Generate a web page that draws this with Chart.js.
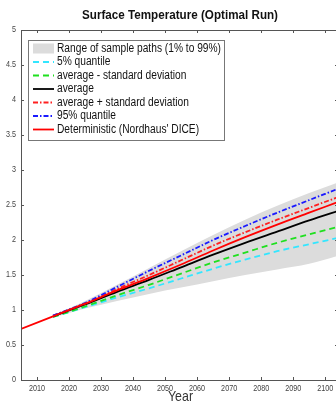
<!DOCTYPE html>
<html>
<head>
<meta charset="utf-8">
<script src="https://cdn.jsdelivr.net/npm/chart.js@4"></script>
<style>
  html, body { margin: 0; padding: 0; background: #fff; }
  #wrap { width: 336px; height: 407px; overflow: hidden; position: relative; }
  canvas { display: block; }
</style>
</head>
<body>
<div id="wrap"><canvas id="chart" width="345" height="407"></canvas></div>
<script>
const years = [2005, 2015, 2025, 2035, 2045, 2055, 2065, 2075, 2085, 2095, 2105];
const bandUpper = [null, 0.93, 1.13, 1.36, 1.60, 1.84, 2.07, 2.29, 2.49, 2.67, 2.84];
const bandLower = [null, 0.89, 1.02, 1.13, 1.23, 1.32, 1.41, 1.50, 1.58, 1.66, 1.79];
const q05 = [null, 0.90, 1.04, 1.18, 1.31, 1.45, 1.59, 1.72, 1.84, 1.94, 2.04];
const avgMinusSd = [null, 0.90, 1.05, 1.21, 1.36, 1.52, 1.68, 1.82, 1.96, 2.08, 2.20];
const average = [null, 0.91, 1.08, 1.26, 1.43, 1.61, 1.79, 1.96, 2.12, 2.28, 2.43];
const avgPlusSd = [null, 0.92, 1.09, 1.30, 1.50, 1.71, 1.92, 2.11, 2.29, 2.46, 2.63];
const q95 = [null, 0.92, 1.10, 1.33, 1.56, 1.78, 2.00, 2.20, 2.39, 2.57, 2.75];
const deterministic = [0.73, 0.91, 1.09, 1.28, 1.46, 1.65, 1.85, 2.04, 2.22, 2.39, 2.56];

const xTicks = [2010, 2020, 2030, 2040, 2050, 2060, 2070, 2080, 2090, 2100];
const yTicks = [0, 0.5, 1, 1.5, 2, 2.5, 3, 3.5, 4, 4.5, 5];

const seriesLabels = [
  'Range of sample paths (1% to 99%)',
  '5% quantile',
  'average - standard deviation',
  'average',
  'average + standard deviation',
  '95% quantile',
  "Deterministic (Nordhaus' DICE)"
];

const FONT = '"Liberation Sans", Arial, sans-serif';
const dash = [6, 4];
const dashDot = [5, 2, 1.5, 2];

function pts(arr) {
  return years.map((y, i) => ({ x: y, y: arr[i] }));
}

function line(label, arr, color, d, order) {
  return {
    label: label, data: pts(arr), borderColor: color, borderWidth: 1.8,
    borderDash: d, pointRadius: 0, fill: false,
    cubicInterpolationMode: 'monotone', order: order
  };
}

// text squeezed horizontally by sx (the original uses a condensed face)
function squeezeText(ctx, text, x, y, font, sx, align) {
  ctx.save();
  ctx.translate(x, y);
  ctx.scale(sx, 1);
  ctx.font = font;
  ctx.textAlign = align;
  ctx.textBaseline = 'middle';
  ctx.fillText(text, 0, 0);
  ctx.restore();
}

function fitScale(ctx, text, font, width) {
  ctx.save();
  ctx.font = font;
  const w = ctx.measureText(text).width;
  ctx.restore();
  return width / w;
}

const datasets = [
  { label: 'lower', data: pts(bandLower), borderWidth: 0, borderColor: 'rgba(0,0,0,0)',
    pointRadius: 0, fill: false, cubicInterpolationMode: 'monotone', order: 20 },
  { label: seriesLabels[0], data: pts(bandUpper), borderWidth: 0, borderColor: 'rgba(0,0,0,0)',
    backgroundColor: '#dcdcdc', pointRadius: 0, fill: 0, cubicInterpolationMode: 'monotone', order: 19 },
  line(seriesLabels[1], q05, '#33e6ff', dash, 6),
  line(seriesLabels[2], avgMinusSd, '#1fe01f', dash, 5),
  line(seriesLabels[3], average, '#000000', [], 4),
  line(seriesLabels[4], avgPlusSd, '#ff2020', dashDot, 3),
  line(seriesLabels[5], q95, '#1a1aff', dashDot, 2),
  line(seriesLabels[6], deterministic, '#ff0000', [], 1)
];

const framePlugin = {
  id: 'frame',
  afterDraw(chart) {
    const ctx = chart.ctx;
    const a = chart.chartArea;
    const xs = chart.scales.x, ys = chart.scales.y;
    ctx.save();
    // box
    ctx.strokeStyle = '#555';
    ctx.lineWidth = 1;
    ctx.strokeRect(Math.round(a.left) + 0.5, Math.round(a.top) + 0.5,
      Math.round(a.right - a.left), Math.round(a.bottom - a.top));
    // inward ticks
    ctx.beginPath();
    xTicks.forEach(v => {
      const px = Math.round(xs.getPixelForValue(v)) + 0.5;
      ctx.moveTo(px, a.bottom); ctx.lineTo(px, a.bottom - 3);
      ctx.moveTo(px, a.top); ctx.lineTo(px, a.top + 3);
    });
    yTicks.forEach(v => {
      const py = Math.round(ys.getPixelForValue(v)) + 0.5;
      ctx.moveTo(a.left, py); ctx.lineTo(a.left + 3, py);
      ctx.moveTo(a.right, py); ctx.lineTo(a.right - 3, py);
    });
    ctx.stroke();

    // tick labels
    ctx.fillStyle = '#444';
    const tickFont = '9px ' + FONT;
    xTicks.forEach(v => {
      squeezeText(ctx, String(v), xs.getPixelForValue(v), a.bottom + 9, tickFont, 0.8, 'center');
    });
    yTicks.forEach(v => {
      squeezeText(ctx, String(v), a.left - 5, ys.getPixelForValue(v), tickFont, 0.8, 'right');
    });

    // title
    ctx.fillStyle = '#111';
    const titleFont = 'bold 13px ' + FONT;
    const title = 'Surface Temperature (Optimal Run)';
    squeezeText(ctx, title, 180, 15, titleFont, fitScale(ctx, title, titleFont, 196), 'center');
    // x label
    ctx.fillStyle = '#333';
    const yearFont = '15px ' + FONT;
    squeezeText(ctx, 'Year', 180.5, 397, yearFont, fitScale(ctx, 'Year', yearFont, 25), 'center');

    // legend
    const lx = 28, ly = 40, lw = 196, lh = 100;
    ctx.fillStyle = '#fff';
    ctx.fillRect(lx, ly, lw, lh);
    ctx.strokeStyle = '#777';
    ctx.lineWidth = 1;
    ctx.strokeRect(lx + 0.5, ly + 0.5, lw, lh);
    const legFont = '12.5px ' + FONT;
    const legScale = fitScale(ctx, seriesLabels[0], legFont, 164);
    const entries = chart.data.datasets.slice(1);
    entries.forEach((ds, i) => {
      const cy = 48.5 + i * 13.5;
      if (i === 0) {
        ctx.fillStyle = ds.backgroundColor;
        ctx.fillRect(lx + 5, cy - 5, 21, 10);
      } else {
        ctx.strokeStyle = ds.borderColor;
        ctx.lineWidth = 1.8;
        ctx.setLineDash(ds.borderDash);
        ctx.beginPath();
        ctx.moveTo(lx + 5, cy); ctx.lineTo(lx + 26, cy);
        ctx.stroke();
        ctx.setLineDash([]);
      }
      ctx.fillStyle = '#111';
      squeezeText(ctx, ds.label, lx + 29, cy, legFont, legScale, 'left');
    });
    ctx.restore();
  }
};

new Chart(document.getElementById('chart'), {
  type: 'line',
  data: { datasets: datasets },
  options: {
    responsive: false,
    animation: false,
    devicePixelRatio: 1,
    layout: { padding: { top: 30, right: 7, left: 0, bottom: 0 } },
    plugins: { legend: { display: false }, tooltip: { enabled: false }, title: { display: false } },
    scales: {
      x: {
        type: 'linear', min: 2005, max: 2104,
        grid: { display: false }, border: { display: false },
        afterBuildTicks: s => { s.ticks = xTicks.map(v => ({ value: v })); },
        afterFit: s => { s.height = 27; },
        ticks: { display: false }
      },
      y: {
        min: 0, max: 5,
        grid: { display: false }, border: { display: false },
        afterBuildTicks: s => { s.ticks = yTicks.map(v => ({ value: v })); },
        afterFit: s => { s.width = 21; },
        ticks: { display: false }
      }
    }
  },
  plugins: [framePlugin]
});
</script>
</body>
</html>
